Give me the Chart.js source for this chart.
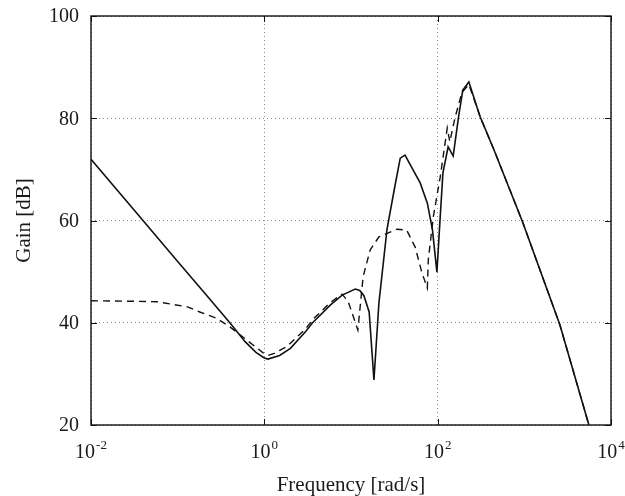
<!DOCTYPE html>
<html>
<head>
<meta charset="utf-8">
<script src="https://cdn.jsdelivr.net/npm/chart.js@4"></script>
<style>
  html, body { margin: 0; padding: 0; background: #fff; }
  #wrap { width: 625px; height: 496px; }
</style>
</head>
<body>
<div id="wrap"><canvas id="gainChart" width="625" height="496"></canvas></div>
<script>
// values (frequency in rad/s, gain in dB)
const solidFreq = [0.01, 0.0316, 0.1, 0.2, 0.4, 0.6, 0.8, 1.0, 1.1, 1.5, 2.0, 3.0, 3.6, 5.8, 7.9, 11.2, 12.6, 14.1, 16.2, 18.4, 21, 26, 32, 37, 42, 63, 76, 87, 98, 107, 115, 132, 151, 174, 195, 229, 309, 447, 955, 2570, 5560];
const solidGain = [72.0, 62.0, 52.0, 46.0, 40.0, 36.3, 34.2, 33.1, 32.9, 33.6, 35.0, 38.3, 40.0, 43.5, 45.4, 46.6, 46.3, 45.3, 42.1, 28.8, 43.9, 58.2, 66.6, 72.2, 72.8, 67.3, 63.4, 58.2, 49.9, 60.7, 69.3, 74.4, 72.6, 80.2, 85.5, 87.1, 80.3, 73.8, 59.7, 39.6, 20.0];

const dashFreq = [0.01, 0.03, 0.058, 0.13, 0.18, 0.28, 0.4, 0.63, 0.97, 1.1, 1.3, 1.8, 3.0, 3.6, 5.8, 7.9, 9.3, 12.0, 13.8, 16.6, 21, 34, 44, 55, 66, 76, 78, 89, 107, 129, 138, 158, 190, 229, 309, 447, 955, 2570, 5560];
const dashGain = [44.3, 44.2, 44.1, 43.1, 42.1, 40.9, 39.2, 36.6, 34.1, 33.6, 34.0, 35.3, 38.8, 40.6, 44.0, 45.6, 44.1, 38.6, 49.0, 54.2, 56.8, 58.3, 58.1, 54.8, 49.7, 46.8, 52.3, 60.7, 68.5, 78.1, 75.4, 80.0, 85.0, 86.6, 80.3, 73.8, 59.7, 39.6, 20.0];

const xTicks = [0.01, 1, 100, 10000];
const xTickExp = ['-2', '0', '2', '4'];
const yTicks = [20, 40, 60, 80, 100];

const serif = "'Liberation Serif', 'DejaVu Serif', serif";
const textColor = '#1a1a1a';

function toPoints(xs, ys) {
    return xs.map((v, i) => ({ x: v, y: ys[i] }));
}

// box, inward tick marks and the tick labels
const framePlugin = {
    id: 'frame',
    afterDraw(chart) {
        const { ctx, chartArea: a, scales: { x, y } } = chart;
        ctx.save();
        ctx.strokeStyle = '#111';
        ctx.lineWidth = 1.4;
        ctx.strokeRect(a.left, a.top, a.right - a.left, a.bottom - a.top);

        ctx.lineWidth = 1;
        ctx.beginPath();
        xTicks.forEach(v => {
            const px = Math.round(x.getPixelForValue(v)) + 0.5;
            ctx.moveTo(px, a.bottom); ctx.lineTo(px, a.bottom - 6);
            ctx.moveTo(px, a.top); ctx.lineTo(px, a.top + 6);
        });
        yTicks.forEach(v => {
            const py = Math.round(y.getPixelForValue(v)) + 0.5;
            ctx.moveTo(a.left, py); ctx.lineTo(a.left + 6, py);
            ctx.moveTo(a.right, py); ctx.lineTo(a.right - 6, py);
        });
        ctx.stroke();

        ctx.fillStyle = textColor;

        // y labels
        ctx.font = '20px ' + serif;
        ctx.textAlign = 'right';
        ctx.textBaseline = 'middle';
        yTicks.forEach(v => {
            ctx.fillText(String(v), a.left - 12, y.getPixelForValue(v) + 1);
        });

        // x labels as 10 with a raised exponent
        ctx.textBaseline = 'alphabetic';
        ctx.textAlign = 'left';
        xTicks.forEach((v, i) => {
            const px = x.getPixelForValue(v);
            ctx.font = '20px ' + serif;
            const wBase = ctx.measureText('10').width;
            ctx.font = '13px ' + serif;
            const wExp = ctx.measureText(xTickExp[i]).width;
            const left = px - (wBase + 1 + wExp) / 2;
            ctx.font = '20px ' + serif;
            ctx.fillText('10', left, a.bottom + 33);
            ctx.font = '13px ' + serif;
            ctx.fillText(xTickExp[i], left + wBase + 1, a.bottom + 24);
        });
        ctx.restore();
    }
};

const ctx = document.getElementById('gainChart').getContext('2d');
new Chart(ctx, {
    type: 'line',
    data: {
        datasets: [
            {
                label: 'solid',
                data: toPoints(solidFreq, solidGain),
                borderColor: '#111',
                borderWidth: 1.6,
                pointRadius: 0,
                fill: false,
                tension: 0
            },
            {
                label: 'dashed',
                data: toPoints(dashFreq, dashGain),
                borderColor: '#111',
                borderWidth: 1.4,
                borderDash: [7, 5],
                pointRadius: 0,
                fill: false,
                tension: 0
            }
        ]
    },
    options: {
        responsive: false,
        animation: false,
        events: [],
        layout: { padding: { left: 0, right: 14, top: 16, bottom: 0 } },
        plugins: {
            legend: { display: false },
            tooltip: { enabled: false }
        },
        scales: {
            x: {
                type: 'logarithmic',
                min: 0.01,
                max: 10000,
                afterBuildTicks: scale => { scale.ticks = xTicks.map(v => ({ value: v })); },
                afterFit: scale => { scale.height = 71; },
                ticks: { display: false },
                grid: { color: '#8a8a8a', lineWidth: 1, drawTicks: false },
                border: { display: false, dash: [1, 3] },
                title: {
                    display: true,
                    text: 'Frequency [rad/s]',
                    color: textColor,
                    font: { family: serif, size: 21, lineHeight: 1 },
                    padding: { top: 0, bottom: 0.5 }
                }
            },
            y: {
                min: 20,
                max: 100,
                afterBuildTicks: scale => { scale.ticks = yTicks.map(v => ({ value: v })); },
                afterFit: scale => { scale.width = 91; },
                ticks: { display: false },
                grid: { color: '#8a8a8a', lineWidth: 1, drawTicks: false },
                border: { display: false, dash: [1, 3] },
                title: {
                    display: true,
                    text: 'Gain [dB]',
                    color: textColor,
                    font: { family: serif, size: 21, lineHeight: 1 },
                    padding: { top: 13.5, bottom: 0 }
                }
            }
        }
    },
    plugins: [framePlugin]
});
</script>
</body>
</html>
